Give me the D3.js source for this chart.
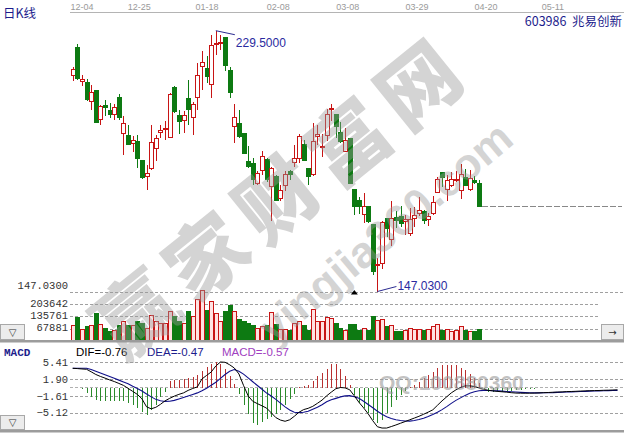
<!DOCTYPE html>
<html><head><meta charset="utf-8">
<script src="https://cdn.jsdelivr.net/npm/d3@7"></script>
<style>body{margin:0;background:#fff}svg{display:block}</style>
</head><body>
<svg id="c" width="624" height="434"></svg>
<script>
// ---------- data ----------
const dateLabels=["12-04","12-25","01-18","02-08","03-08","03-29","04-20","05-11"];
const dateIdx=[2,14.4,29.1,44.5,59.6,74.6,89.5,104];
const open =[215.4,224.3,213.5,213.0,207.2,210.6,201.3,205.8,204.2,202.9,208.5,197.1,196.4,193.9,194.5,188.4,183.4,185.8,192.4,197.4,198.3,195.8,211.4,202.7,201.0,208.0,202.1,208.4,218.2,217.7,212.4,225.1,225.3,227.2,216.8,199.2,200.3,197.1,188.2,187.6,181.3,185.2,188.7,180.3,183.4,176.3,180.6,185.0,187.9,189.0,193.4,186.0,184.1,196.1,192.6,196.4,204.5,203.1,197.4,191.3,195.3,179.2,175.7,171.3,173.9,168.1,155.3,156.0,170.0,163.4,170.4,170.8,169.2,165.5,170.0,171.8,172.3,169.7,171.8,178.4,184.8,179.2,180.6,182.0,178.9,183.1,179.2,182.0,181.3];
const high =[218.1,225.4,215.6,214.2,212.2,210.8,205.9,207.7,206.6,206.3,209.5,202.4,199.6,196.1,196.6,188.4,187.1,199.8,196.6,199.8,201.0,209.8,211.9,204.5,204.2,214.0,206.9,219.3,223.2,221.4,228.2,229.5,228.0,227.4,217.9,206.3,204.5,197.1,192.9,189.2,185.0,191.5,189.2,186.3,183.9,180.8,185.0,185.5,193.4,196.8,195.0,186.0,200.3,199.8,196.8,204.8,206.3,203.1,200.6,198.7,195.3,179.2,176.8,178.1,173.9,168.1,157.6,169.4,170.0,175.5,172.5,174.2,171.3,173.4,173.9,176.8,172.8,171.8,177.1,183.2,184.8,183.9,184.8,185.0,187.3,185.8,185.5,183.4,182.3];
const low  =[213.5,213.8,211.9,207.2,204.5,200.3,199.7,202.4,201.9,201.3,201.3,190.3,193.4,191.3,186.0,182.7,179.2,185.5,188.2,195.5,195.0,195.5,203.5,196.8,197.1,199.7,196.6,204.5,210.8,212.9,208.2,221.9,223.5,216.7,208.2,194.0,195.5,190.5,186.0,180.8,180.8,183.9,181.8,169.4,175.5,175.5,178.7,182.3,186.3,187.6,188.2,180.8,183.4,193.4,189.7,194.5,200.8,195.5,194.0,191.1,181.0,171.3,171.5,168.6,168.6,152.3,147.03,154.2,164.4,161.3,167.1,167.3,164.9,164.7,167.3,170.8,168.3,167.9,171.1,178.1,180.0,175.5,180.0,181.6,176.3,180.3,178.9,181.0,173.9];
const close=[217.3,214.3,214.0,207.7,210.1,200.6,205.6,205.3,203.1,205.3,202.1,200.3,193.6,194.7,189.2,183.2,184.5,194.0,195.5,197.9,198.7,209.2,204.0,200.8,202.7,204.5,206.3,215.4,219.6,215.1,224.9,225.6,225.9,218.5,210.1,202.1,196.1,190.8,186.6,182.3,184.5,189.7,182.3,186.0,175.7,179.0,183.9,183.9,189.2,196.1,188.4,183.4,194.5,196.6,192.9,203.1,205.0,199.2,194.5,194.7,181.3,173.9,173.9,173.9,169.2,153.5,155.7,169.0,167.1,170.0,169.4,168.6,169.7,169.7,171.1,172.5,169.4,170.9,175.3,182.3,183.2,182.0,182.3,182.3,184.1,180.6,182.9,181.6,173.9];
const volume=[82800,129700,66200,77300,88300,154500,93800,71700,52400,58000,82800,104900,82800,85500,104900,96600,71700,140700,104900,96600,96600,162800,132500,107600,99300,160100,132500,229000,276000,165600,218000,154500,107600,160100,195900,160100,115900,106500,97700,88300,70100,78900,82800,156200,91100,66200,66200,55200,96600,104900,88300,60700,173800,104900,104900,129700,126900,99300,69000,56800,91100,93800,55200,69000,60700,132500,110400,115900,77300,82800,52400,52400,60700,69000,64600,63500,58000,66200,77300,93800,58000,63500,52400,55200,80000,58000,52400,52400,66200];
const dif=[4.10,4.04,3.96,3.89,3.37,2.81,2.40,2.05,1.67,1.34,0.94,0.53,-0.09,-0.72,-1.34,-2.27,-3.94,-4.35,-4.04,-3.42,-2.69,-2.17,-1.71,-1.34,-1.03,-0.51,-0.11,0.22,1.88,2.61,3.33,4.58,5.41,5.35,4.83,4.16,2.92,0.53,-1.65,-2.79,-3.27,-3.73,-4.21,-5.18,-6.18,-6.70,-6.95,-6.64,-5.91,-5.08,-4.52,-4.25,-3.83,-3.21,-2.54,-1.65,-0.88,-0.16,0.09,0.01,-0.38,-1.65,-3.00,-4.14,-5.39,-6.84,-8.09,-8.36,-8.36,-8.05,-7.72,-7.36,-7.01,-6.64,-6.28,-5.91,-5.49,-5.04,-4.56,-3.62,-2.69,-1.86,-1.03,-0.40,0.11,0.43,0.43,0.32,0.01,-0.30,-0.49,-0.61,-0.72,-0.80,-0.88,-0.99,-1.07,-1.09,-1.09,-1.09,-1.07,-1.03,-0.99,-0.95,-0.90,-0.86,-0.82,-0.76,-0.74,-0.70,-0.65,-0.61,-0.58,-0.55,-0.53,-0.49,-0.47,-0.43,-0.40];
const dea=[4.10,4.10,4.10,4.10,3.85,3.48,3.13,2.75,2.38,2.02,1.63,1.26,0.86,0.36,-0.11,-0.65,-1.26,-1.86,-2.38,-2.67,-2.81,-2.77,-2.59,-2.29,-2.00,-1.69,-1.36,-1.03,-0.59,-0.05,0.57,1.19,1.98,2.81,3.48,3.83,3.48,2.88,2.11,1.30,0.51,-0.28,-1.07,-1.69,-2.38,-3.17,-3.94,-4.58,-5.06,-5.14,-5.08,-4.87,-4.45,-4.04,-3.52,-2.90,-2.48,-2.17,-1.86,-1.65,-1.61,-1.82,-2.17,-2.79,-3.46,-4.14,-4.87,-5.49,-6.01,-6.39,-6.64,-6.80,-6.88,-6.91,-6.78,-6.59,-6.32,-5.97,-5.56,-5.08,-4.52,-3.89,-3.21,-2.59,-2.07,-1.55,-1.09,-0.78,-0.57,-0.51,-0.53,-0.57,-0.61,-0.67,-0.74,-0.80,-0.86,-0.92,-0.97,-1.01,-1.03,-1.03,-1.01,-0.99,-0.97,-0.92,-0.90,-0.86,-0.82,-0.78,-0.74,-0.72,-0.67,-0.64,-0.61,-0.57,-0.55,-0.53,-0.51];
const macd=[0,-0.1,-0.3,-1.0,-1.8,-2.6,-2.7,-2.7,-2.7,-2.7,-2.7,-2.8,-3.2,-3.5,-4.1,-5.0,-5.6,-4.7,-3.6,-1.9,-0.8,1.5,1.7,1.7,1.8,2.0,2.3,2.8,3.5,4.3,5.0,5.4,5.0,3.9,2.4,0.8,-1.2,-3.5,-5.5,-7.3,-7.8,-7.0,-6.4,-6.0,-5.4,-4.6,-3.6,-2.4,-1.2,0.3,0.4,0.6,1.5,2.4,3.2,4.0,4.9,5.0,3.9,2.5,0.7,-1.4,-3.2,-4.2,-5.2,-6.6,-7.3,-6.6,-5.2,-3.9,-2.5,-1.4,-0.7,0.3,0.6,1.3,2.0,2.7,3.4,4.1,4.8,4.8,4.8,4.7,4.1,3.75,3.0,2.0,1.0,-0.6,-0.8,-0.9,-0.9,-0.8,-0.7,-0.6,-0.5,-0.4,-0.3,-0.2,-0.2,-0.1,-0.1,0,0,0,0,0,0,0,0,0,0,0,0,0,0,0,0];
const priceTicks=[147.03];
const volTicks=[67881,135761,203642];
const macdTicks=[5.41,1.90,-1.61,-5.12];
const hiPrice=229.5, loPrice=147.03;
const lastDIF=-0.76,lastDEA=-0.47,lastMACD=-0.57;

// ---------- setup ----------
const svg=d3.select("#c");
const RED="#c81414",GREEN="#0d7a12",NAVY="#1c1c8c";
const x=d3.scaleLinear().domain([0,118]).range([72.7,617.5]);
const yP=d3.scaleLinear().domain([loPrice,hiPrice]).range([291.5,30.7]);
const yV=d3.scaleLinear().domain([0,271523]).range([341,291.8]);
const yM=d3.scaleLinear().domain([-5.12,5.41]).range([412.5,362]);
const mono="'Liberation Mono',monospace", sans="'Liberation Sans',Arial,sans-serif", cjk="'Noto Sans CJK SC',sans-serif";

// top date axis
svg.append("line").attr("x1",70).attr("x2",624).attr("y1",12.5).attr("y2",12.5).attr("stroke","#b4b4b4");
svg.selectAll(".dl").data(dateLabels).join("text").attr("x",(d,i)=>x(dateIdx[i])).attr("y",10)
  .attr("text-anchor","middle").attr("font-family",sans).attr("font-size",9).attr("fill","#9a9a9a").text(d=>d);
svg.append("text").attr("x",3).attr("y",17.5).attr("font-family",cjk).attr("font-size",12.5).attr("fill",NAVY).text("日K线");
svg.append("text").attr("x",622).attr("y",25.5).attr("text-anchor","end").attr("font-family",cjk).attr("font-size",12.5)
  .attr("fill",NAVY).style("white-space","pre").text("603986  兆易创新");

// axes with dashed grid
function gridAxis(scale,ticks,fmt,len,dy){
  const g=svg.append("g").attr("transform","translate(70,0)")
    .call(d3.axisLeft(scale).tickValues(ticks).tickFormat(fmt).tickSize(-len).tickPadding(2));
  g.select(".domain").remove();
  g.selectAll("line").attr("stroke","#a0a0a0").attr("stroke-dasharray","3,2").attr("shape-rendering","crispEdges");
  g.selectAll("text").attr("font-family",mono).attr("font-size",10.5).attr("fill","#333").attr("dy",dy);
  return g;
}
gridAxis(yP,priceTicks,d3.format(".4f"),554,"-0.25em");
gridAxis(yV,volTicks,d3.format("d"),530,"0.2em");
gridAxis(yM,macdTicks,d3.format(".2f"),554,"0.32em");
svg.append("line").attr("x1",70).attr("x2",624).attr("y1",yM(0)).attr("y2",yM(0))
  .attr("stroke","#b0b0b0").attr("stroke-dasharray","3,2").attr("shape-rendering","crispEdges");

// last close dashed line
const n=close.length;
svg.append("line").attr("x1",x(n-1)+3).attr("x2",622).attr("y1",yP(close[n-1])).attr("y2",yP(close[n-1]))
  .attr("stroke","#888").attr("stroke-dasharray","6,2").attr("shape-rendering","crispEdges");

// candles
const idx=d3.range(n);
const cg=svg.append("g").attr("shape-rendering","crispEdges");
cg.selectAll(".w").data(idx).join("line")
  .attr("x1",i=>Math.round(x(i))+0.5).attr("x2",i=>Math.round(x(i))+0.5)
  .attr("y1",i=>yP(high[i])).attr("y2",i=>yP(low[i]))
  .attr("stroke",i=>close[i]>=open[i]?RED:GREEN);
cg.selectAll(".b").data(idx).join("rect")
  .attr("x",i=>Math.round(x(i))-1.5).attr("width",4)
  .attr("y",i=>yP(Math.max(open[i],close[i])))
  .attr("height",i=>Math.max(1,Math.abs(yP(open[i])-yP(close[i]))))
  .attr("fill",i=>close[i]>=open[i]?"#fff":GREEN)
  .attr("stroke",i=>close[i]>=open[i]?RED:GREEN);

// volume
cg.selectAll(".v").data(idx).join("rect")
  .attr("x",i=>Math.round(x(i))-1.5).attr("width",4)
  .attr("y",i=>yV(volume[i])).attr("height",i=>yV(0)-yV(volume[i]))
  .attr("fill",i=>close[i]>=open[i]?"#ffe2e2":GREEN)
  .attr("stroke",i=>close[i]>=open[i]?RED:GREEN);

// MACD
const mIdx=d3.range(macd.length);
const mg=svg.append("g");
mg.selectAll(".h").data(mIdx.filter(i=>macd[i]!==0)).join("line").attr("shape-rendering","crispEdges")
  .attr("x1",i=>Math.round(x(i))+0.5).attr("x2",i=>Math.round(x(i))+0.5)
  .attr("y1",yM(0)).attr("y2",i=>yM(macd[i]))
  .attr("stroke",i=>macd[i]>0?"#b83030":"#2a8a2a");
const ln=arr=>d3.line().x((d,i)=>x(i)).y(d=>yM(d))(arr);
mg.append("path").attr("d",ln(dea)).attr("fill","none").attr("stroke","#10108a").attr("stroke-width",1.1);
mg.append("path").attr("d",ln(dif)).attr("fill","none").attr("stroke","#000").attr("stroke-width",1);

// MACD header
svg.append("text").attr("x",4).attr("y",356).attr("font-family",mono).attr("font-size",11).attr("font-weight","bold").attr("fill",NAVY).text("MACD");
svg.append("text").attr("x",76).attr("y",356).attr("font-family",sans).attr("font-size",11.5).attr("fill","#000").text("DIF="+lastDIF.toFixed(2));
svg.append("text").attr("x",147).attr("y",356).attr("font-family",sans).attr("font-size",11.5).attr("fill",NAVY).text("DEA="+lastDEA.toFixed(2));
svg.append("text").attr("x",222).attr("y",356).attr("font-family",sans).attr("font-size",11.5).attr("fill","#a040c0").text("MACD="+lastMACD.toFixed(2));

// hi / lo annotations
const hiI=high.indexOf(d3.max(high)), loI=low.indexOf(d3.min(low));
svg.append("line").attr("x1",x(hiI)).attr("y1",yP(high[hiI])).attr("x2",x(hiI)+19).attr("y2",yP(high[hiI])+4).attr("stroke","#2a2a90");
svg.append("text").attr("x",x(hiI)+20).attr("y",yP(high[hiI])+16).attr("font-family",sans).attr("font-size",12).attr("fill","#2a2aa0").text(d3.format(".4f")(high[hiI]));
svg.append("line").attr("x1",x(loI)).attr("y1",yP(low[loI])).attr("x2",x(loI)+19).attr("y2",yP(low[loI])-5).attr("stroke","#2a2a90");
svg.append("text").attr("x",x(loI)+20).attr("y",yP(low[loI])-2).attr("font-family",sans).attr("font-size",12).attr("fill","#2a2aa0").text(d3.format(".4f")(low[loI]));
// marker triangle
const tx=x(61);
svg.append("path").attr("d",`M${tx},${yP(loPrice)-1.5}L${tx+3.5},${yP(loPrice)+3}L${tx-3.5},${yP(loPrice)+3}Z`).attr("fill","#000");

// separators & buttons
svg.append("rect").attr("x",0).attr("y",340).attr("width",624).attr("height",2.5).attr("fill","#9c9c9c");
svg.append("rect").attr("x",0).attr("y",430).attr("width",624).attr("height",2.5).attr("fill","#9c9c9c");
function btn(x0,y0,w,h,t){
  svg.append("rect").attr("x",x0+0.5).attr("y",y0+0.5).attr("width",w).attr("height",h).attr("fill","#ececec").attr("stroke","#a8a8a8");
  svg.append("text").attr("x",x0+w/2+0.5).attr("y",y0+h/2+4).attr("text-anchor","middle").attr("font-family","'DejaVu Sans'").attr("font-size",10).attr("fill","#333").text(t);
}
btn(0,324,24,15,"▽");
btn(0,415,24,14,"▽");
btn(601,324,22,15,"→");

// watermark
const wm=svg.append("g").attr("pointer-events","none").attr("opacity",0.42);
wm.append("text").attr("transform","translate(278,192) rotate(-39)").attr("text-anchor","middle").attr("dominant-baseline","central")
  .attr("font-family",cjk).attr("font-weight",900).attr("font-size",80).attr("letter-spacing",11).attr("fill","#9a9a9a").text("赢家财富网");
wm.append("text").attr("transform","translate(385,232) rotate(-40)").attr("text-anchor","middle").attr("dominant-baseline","central")
  .attr("font-family",sans).attr("font-weight","bold").attr("font-size",44).attr("fill","#9a9a9a").text("yingjia360.com");
svg.append("text").attr("x",379).attr("y",390).attr("font-family",sans).attr("font-weight","bold").attr("font-size",21)
  .attr("fill","#9a9a9a").attr("opacity",0.6).text("QQ:100880360");
</script></body></html>
